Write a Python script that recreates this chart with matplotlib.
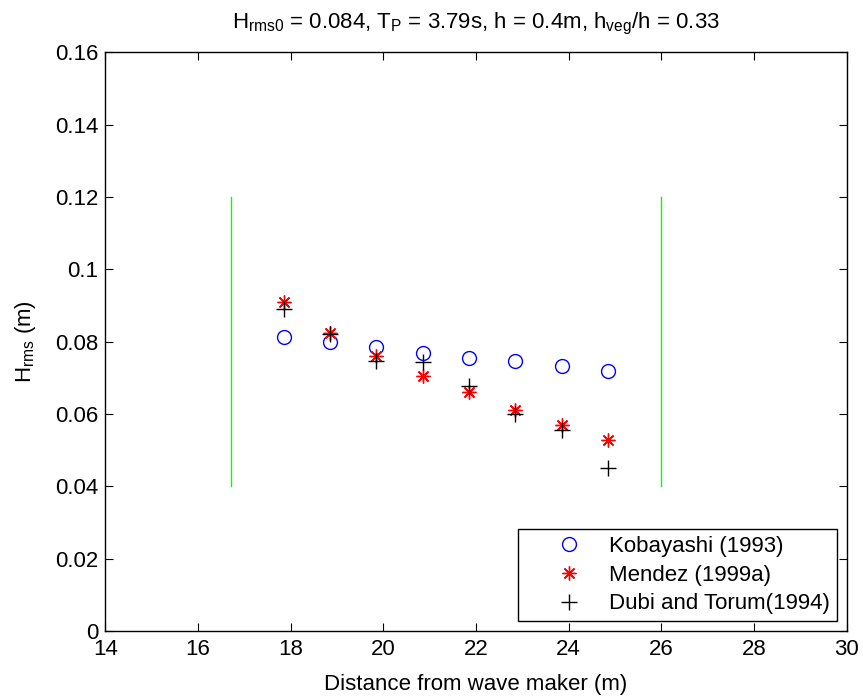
import matplotlib

matplotlib.use("Agg")
import matplotlib.pyplot as plt  # noqa: E402

plt.rcParams["font.family"] = ["Liberation Sans", "DejaVu Sans"]
plt.rcParams["mathtext.default"] = "regular"
plt.rcParams["font.size"] = 16

# Measured wave height along the vegetation patch
distance = [17.85, 18.85, 19.85, 20.85, 21.85, 22.85, 23.85, 24.85]
kobayashi = [0.0813, 0.0799, 0.0786, 0.0769, 0.0755, 0.0746, 0.0733, 0.0718]
mendez = [0.0909, 0.0824, 0.0761, 0.0704, 0.0660, 0.0610, 0.0570, 0.0529]
dubi = [0.0890, 0.0821, 0.0747, 0.0744, 0.0678, 0.0599, 0.0556, 0.0450]

# Vegetation field limits
veg_start, veg_end = 16.7, 26.0
veg_ymin, veg_ymax = 0.04, 0.12

xticks = [14, 16, 18, 20, 22, 24, 26, 28, 30]
yticks = [0, 0.02, 0.04, 0.06, 0.08, 0.1, 0.12, 0.14, 0.16]
ytick_labels = ["0", "0.02", "0.04", "0.06", "0.08", "0.1", "0.12", "0.14", "0.16"]


def main() -> None:
    fig = plt.figure(figsize=(8.63, 6.96), dpi=100)
    ax = fig.add_axes([0.1222, 0.0934, 0.8587, 0.8312])

    ax.plot(distance, kobayashi, linestyle="none", marker="o", ms=10,
            mfc="none", mec="blue", mew=1.0, label="Kobayashi (1993)")
    ax.plot(distance, mendez, linestyle="none", marker=(8, 2, 0), ms=10,
            mec="red", mew=1.0, label="Mendez (1999a)")
    ax.plot(distance, dubi, linestyle="none", marker="+", ms=12,
            mec="black", mew=1.0, label="Dubi and Torum(1994)")

    ax.plot([veg_start, veg_start], [veg_ymin, veg_ymax], color="#00ff00", lw=1)
    ax.plot([veg_end, veg_end], [veg_ymin, veg_ymax], color="#00ff00", lw=1)

    ax.set_xlim(14, 30)
    ax.set_ylim(0, 0.16)
    ax.set_xticks(xticks)
    ax.set_yticks(yticks, ytick_labels)
    ax.tick_params(direction="in", top=True, right=True, length=6, width=0.8,
                   labelsize=16)
    ax.tick_params(axis="x", pad=6)
    ax.tick_params(axis="y", pad=5)
    for spine in ax.spines.values():
        spine.set_linewidth(1.0)

    ax.set_xlabel("Distance from wave maker (m)", fontsize=16, labelpad=10)
    ax.set_ylabel("$H_{rms}$ (m)", fontsize=16, labelpad=12)
    ax.set_title("$H_{rms0}$ = 0.084, $T_P$ = 3.79s, h = 0.4m, "
                 "$h_{veg}$/h = 0.33", fontsize=16, pad=17)

    leg = ax.legend(loc="lower right", fancybox=False, framealpha=1,
                    edgecolor="black", fontsize=16, borderaxespad=0.45,
                    handlelength=4.0, handletextpad=-0.2, labelspacing=0.35,
                    borderpad=0.3)
    leg.get_frame().set_linewidth(1.0)

    fig.savefig("out.png", dpi=100)
    plt.close(fig)


if __name__ == "__main__":
    main()
